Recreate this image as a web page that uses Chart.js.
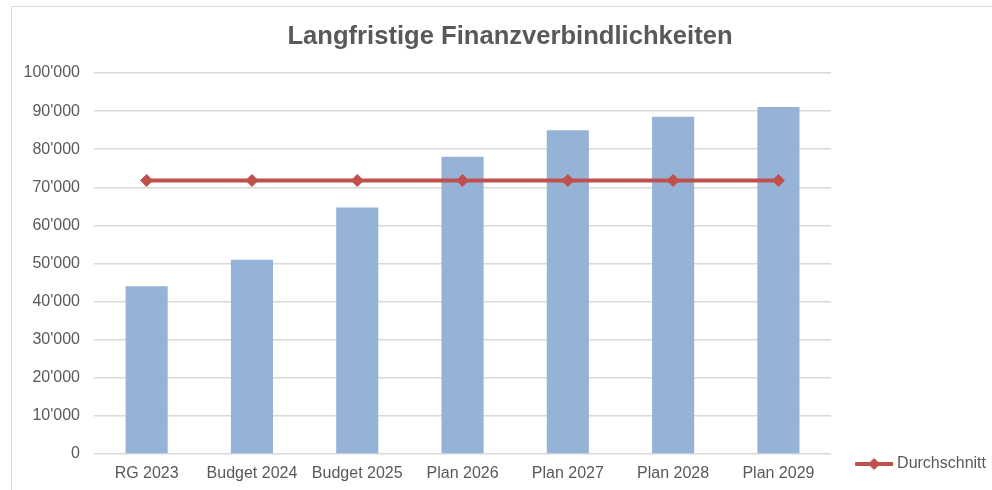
<!DOCTYPE html>
<html>
<head>
<meta charset="utf-8">
<script src="https://cdn.jsdelivr.net/npm/chart.js@4/dist/chart.umd.min.js"></script>
<style>
  html, body { margin: 0; padding: 0; background: #fff; overflow: hidden; }
  #wrap { position: relative; width: 1020px; height: 490px; }
</style>
</head>
<body>
<div id="wrap"><canvas id="chart"></canvas></div>
<script>
// ---- Data ----
const categories = ['RG 2023', 'Budget 2024', 'Budget 2025', 'Plan 2026', 'Plan 2027', 'Plan 2028', 'Plan 2029'];
const liabilities = [44000, 51000, 64700, 78000, 85000, 88500, 91100];
const average = [71800, 71800, 71800, 71800, 71800, 71800, 71800];
const yTicks = [0, 10000, 20000, 30000, 40000, 50000, 60000, 70000, 80000, 90000, 100000];

const FONT = "'Liberation Sans', Arial, sans-serif";
const TEXT = '#595959';
const BAR = '#95b3d7';
const RED = '#c0504d';

// legend marker: line with diamond (left part of image is transparent)
function legendMarker() {
  const c = document.createElement('canvas');
  c.width = 56; c.height = 14;
  const g = c.getContext('2d');
  g.strokeStyle = RED;
  g.lineWidth = 4;
  g.beginPath(); g.moveTo(18, 7); g.lineTo(56, 7); g.stroke();
  g.fillStyle = RED;
  g.beginPath(); g.moveTo(31, 7); g.lineTo(37, 1); g.lineTo(43, 7); g.lineTo(37, 13); g.closePath(); g.fill();
  return c;
}

// light frame like the office chart area
const framePlugin = {
  id: 'frame',
  beforeDraw(chart) {
    const ctx = chart.ctx;
    ctx.save();
    ctx.strokeStyle = '#d9d9d9';
    ctx.lineWidth = 1;
    ctx.beginPath();
    ctx.moveTo(11.5, 600); ctx.lineTo(11.5, 6.5); ctx.lineTo(1100, 6.5);
    ctx.stroke();
    ctx.restore();
  }
};

new Chart(document.getElementById('chart'), {
  type: 'bar',
  data: {
    labels: categories,
    datasets: [{
      type: 'bar',
      label: 'Langfristige Finanzverbindlichkeiten',
      data: liabilities,
      backgroundColor: BAR,
      categoryPercentage: 1,
      barPercentage: 0.4,
      order: 2
    }, {
      type: 'line',
      label: 'Durchschnitt',
      data: average,
      borderColor: RED,
      backgroundColor: RED,
      borderWidth: 4,
      pointStyle: 'rectRot',
      pointRadius: 6,
      pointBorderWidth: 1,
      pointBackgroundColor: RED,
      pointBorderColor: RED,
      order: 1
    }]
  },
  options: {
    responsive: true,
    maintainAspectRatio: false,
    animation: false,
    layout: { padding: { left: 24, right: 24, top: 0, bottom: 8 } },
    plugins: {
      title: {
        display: true,
        text: 'Langfristige Finanzverbindlichkeiten',
        color: TEXT,
        font: { family: FONT, size: 25.6, weight: 'bold' },
        padding: { top: 21.5, bottom: 20.8 }
      },
      legend: {
        position: 'right',
        align: 'end',
        labels: {
          filter: (item) => item.datasetIndex === 1,
          color: TEXT,
          font: { family: FONT, size: 16 },
          usePointStyle: true,
          pointStyle: legendMarker(),
          pointStyleWidth: 48,
          padding: 10
        }
      },
      tooltip: { enabled: false }
    },
    scales: {
      x: {
        grid: { display: false, drawTicks: false },
        border: { display: false },
        ticks: { color: TEXT, font: { family: FONT, size: 16 }, padding: 10, maxRotation: 0, autoSkip: false },
        afterFit: (s) => { s.height = 28; }
      },
      y: {
        min: 0,
        max: 100000,
        afterBuildTicks: (s) => { s.ticks = yTicks.map(v => ({ value: v })); },
        grid: { color: '#d9d9d9', lineWidth: 1.5, drawTicks: false },
        border: { display: false },
        ticks: {
          color: TEXT,
          font: { family: FONT, size: 16 },
          padding: 14,
          callback: (v) => String(v).replace(/\B(?=(\d{3})+(?!\d))/g, "'")
        },
        afterFit: (s) => { s.width = 70; }
      }
    }
  },
  plugins: [framePlugin]
});
</script>
</body>
</html>
